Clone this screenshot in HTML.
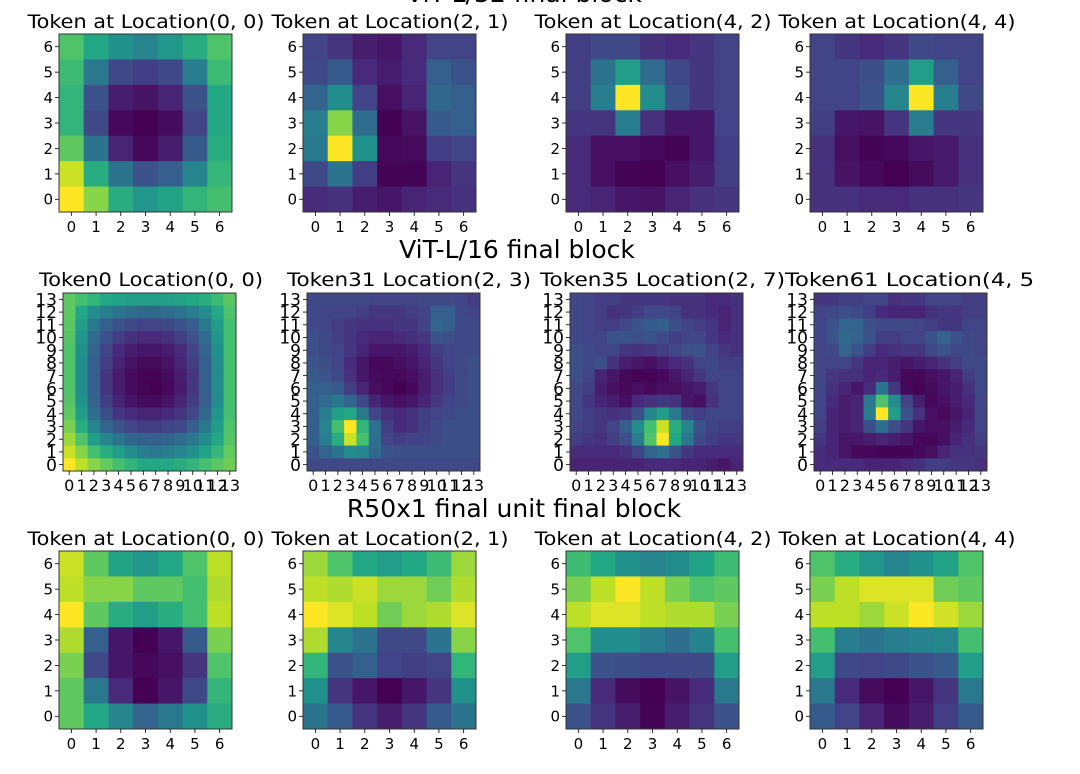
<!DOCTYPE html>
<html><head><meta charset="utf-8">
<style>
html,body{margin:0;padding:0;background:#fff;}
svg{display:block;}
text{font-family:"DejaVu Sans","Liberation Sans",sans-serif;fill:#000;}
</style></head>
<body>
<svg id="fig" width="1080" height="774" viewBox="0 0 1080 774" xmlns="http://www.w3.org/2000/svg">
<text x="524" y="2" font-size="25" text-anchor="middle">ViT-L/32 final block</text>
<text x="517" y="258" font-size="25" text-anchor="middle">ViT-L/16 final block</text>
<text x="514" y="517" font-size="25" text-anchor="middle">R50x1 final unit final block</text>
</svg>
<script>
// rows listed from top (highest y index) to bottom (y=0)
const ticks7 = ['0','1','2','3','4','5','6'];
const ticks14 = ['0','1','2','3','4','5','6','7','8','9','10','11','12','13'];
const titlesRow1 = ['Token at Location(0, 0)','Token at Location(2, 1)','Token at Location(4, 2)','Token at Location(4, 4)'];
const titlesRow2 = ['Token0 Location(0, 0)','Token31 Location(2, 3)','Token35 Location(2, 7)','Token61 Location(4, 5)'];
const titlesRow3 = ['Token at Location(0, 0)','Token at Location(2, 1)','Token at Location(4, 2)','Token at Location(4, 4)'];

const vit32_00 = [
[.72,.6,.5,.45,.52,.62,.72],[.68,.4,.22,.18,.22,.42,.68],[.65,.25,.08,.05,.1,.25,.6],
[.65,.22,.02,0,.03,.2,.6],[.75,.38,.1,.02,.08,.28,.62],[.92,.62,.38,.25,.3,.45,.66],[1,.82,.62,.52,.58,.65,.7]];
const vit32_21 = [
[.2,.15,.08,.06,.12,.2,.2],[.22,.28,.12,.08,.12,.3,.25],[.32,.48,.2,.04,.1,.33,.3],
[.42,.82,.35,0,.05,.28,.3],[.4,1,.5,.02,.03,.18,.2],[.22,.38,.18,.01,.01,.1,.15],[.12,.14,.08,.06,.1,.12,.14]];
const vit32_42 = [
[.18,.22,.22,.14,.12,.16,.2],[.18,.38,.55,.35,.22,.16,.2],[.18,.42,1,.48,.25,.16,.2],
[.16,.15,.42,.14,.06,.06,.2],[.12,.04,.04,.02,.01,.06,.18],[.12,.04,.01,0,.04,.08,.18],[.12,.1,.06,.05,.1,.14,.16]];
const vit32_44 = [
[.2,.16,.12,.16,.22,.2,.2],[.2,.2,.24,.36,.55,.3,.2],[.2,.2,.25,.45,1,.42,.22],
[.18,.06,.05,.15,.42,.16,.16],[.14,.04,.01,.02,.06,.07,.14],[.14,.05,.02,0,.03,.07,.14],[.14,.14,.12,.12,.14,.14,.16]];

const vit16_t0 = [
[.75,.7,.65,.6,.58,.55,.55,.55,.56,.58,.6,.62,.68,.74],
[.75,.6,.48,.42,.38,.35,.34,.34,.35,.38,.42,.48,.6,.72],
[.74,.55,.4,.3,.25,.22,.2,.2,.22,.25,.3,.4,.55,.7],
[.73,.52,.35,.25,.18,.14,.12,.12,.14,.18,.25,.35,.52,.7],
[.72,.5,.32,.2,.12,.08,.06,.06,.08,.12,.2,.32,.5,.7],
[.72,.48,.3,.18,.1,.05,.03,.03,.05,.1,.18,.3,.48,.7],
[.72,.48,.3,.16,.08,.03,.01,.01,.03,.08,.16,.3,.48,.7],
[.72,.48,.3,.16,.08,.03,.01,0,.02,.07,.16,.3,.48,.7],
[.73,.5,.32,.18,.1,.05,.03,.03,.05,.1,.18,.3,.48,.7],
[.75,.55,.36,.24,.16,.12,.1,.1,.12,.15,.22,.34,.52,.7],
[.8,.62,.45,.32,.25,.2,.18,.18,.2,.22,.3,.4,.55,.72],
[.85,.72,.55,.45,.38,.32,.3,.3,.32,.35,.4,.48,.6,.73],
[.92,.82,.7,.62,.55,.48,.42,.4,.42,.45,.5,.58,.66,.76],
[1,.9,.82,.76,.7,.65,.6,.6,.6,.62,.65,.7,.74,.78]];
const vit16_t31 = [
[.22,.22,.22,.22,.22,.2,.2,.2,.2,.22,.22,.22,.2,.18],
[.22,.2,.2,.2,.18,.16,.16,.16,.18,.2,.3,.3,.22,.2],
[.22,.2,.18,.16,.14,.14,.14,.16,.16,.2,.32,.3,.22,.22],
[.24,.22,.18,.16,.12,.1,.1,.12,.14,.16,.26,.24,.22,.22],
[.24,.22,.2,.16,.1,.06,.06,.06,.08,.12,.18,.2,.22,.22],
[.26,.24,.2,.12,.06,.02,.02,.04,.06,.1,.16,.2,.22,.24],
[.28,.26,.22,.14,.06,.03,.02,.02,.04,.08,.14,.18,.22,.24],
[.3,.3,.28,.18,.1,.04,.02,0,.02,.08,.14,.18,.22,.24],
[.3,.35,.4,.32,.22,.1,.06,.04,.06,.1,.16,.2,.22,.24],
[.3,.42,.55,.6,.4,.2,.14,.12,.14,.18,.2,.22,.24,.24],
[.3,.45,.7,1,.65,.36,.18,.12,.14,.18,.22,.24,.24,.24],
[.3,.42,.62,.92,.7,.36,.2,.18,.2,.2,.22,.24,.24,.24],
[.26,.32,.38,.48,.45,.34,.26,.24,.24,.24,.24,.24,.24,.24],
[.22,.22,.22,.22,.22,.22,.22,.22,.22,.22,.22,.22,.22,.22]];
const vit16_t35 = [
[.22,.2,.18,.18,.16,.16,.16,.16,.14,.14,.14,.12,.12,.14],
[.22,.2,.18,.14,.16,.18,.22,.22,.2,.14,.14,.12,.1,.14],
[.22,.2,.18,.18,.22,.26,.28,.3,.24,.2,.18,.16,.1,.14],
[.22,.2,.2,.26,.26,.24,.26,.22,.18,.2,.2,.16,.12,.14],
[.24,.22,.2,.2,.16,.14,.16,.18,.22,.24,.26,.2,.16,.14],
[.24,.22,.24,.14,.08,.06,.04,.08,.12,.14,.2,.22,.18,.18],
[.24,.2,.1,.06,.02,.01,.01,.02,.06,.1,.16,.2,.2,.2],
[.22,.18,.08,.04,.02,.04,.02,.04,.04,.06,.08,.16,.2,.2],
[.22,.16,.1,.08,.04,.12,.14,.16,.14,.06,.04,.14,.2,.2],
[.22,.18,.16,.14,.16,.24,.45,.55,.4,.22,.18,.2,.2,.2],
[.2,.18,.16,.2,.3,.48,.7,.92,.62,.45,.26,.2,.18,.18],
[.18,.16,.14,.18,.24,.42,.72,1,.6,.4,.22,.18,.16,.16],
[.12,.12,.12,.12,.14,.2,.32,.36,.26,.16,.12,.12,.12,.12],
[.1,.1,.1,.1,.1,.1,.12,.12,.12,.1,.1,.08,.06,.1]];
const vit16_t61 = [
[.16,.16,.18,.18,.2,.2,.14,.16,.16,.2,.2,.2,.18,.18],
[.2,.22,.24,.22,.18,.12,.1,.1,.1,.14,.16,.16,.18,.18],
[.2,.26,.32,.32,.24,.22,.22,.22,.2,.18,.16,.16,.2,.2],
[.2,.26,.34,.32,.26,.18,.18,.2,.2,.26,.32,.26,.22,.2],
[.2,.22,.32,.26,.18,.12,.14,.16,.16,.22,.26,.22,.22,.2],
[.2,.2,.2,.16,.1,.1,.08,.06,.08,.1,.14,.18,.22,.22],
[.2,.16,.14,.14,.1,.12,.08,.02,.02,.04,.06,.1,.18,.22],
[.2,.14,.1,.06,.12,.38,.16,.02,.01,.03,.06,.08,.14,.22],
[.2,.12,.08,.1,.4,.72,.48,.2,.08,.02,.04,.08,.12,.2],
[.2,.1,.08,.1,.42,1,.55,.26,.14,.04,.02,.06,.1,.2],
[.18,.1,.08,.1,.24,.36,.24,.16,.06,.04,.04,.08,.12,.2],
[.16,.1,.06,.06,.08,.1,.08,.06,.02,.02,.04,.1,.14,.18],
[.12,.1,.06,.02,.02,.01,.01,.01,.02,.04,.1,.14,.14,.16],
[.12,.12,.12,.12,.1,.1,.1,.12,.14,.18,.18,.16,.16,.14]];

const r50_00 = [
[.92,.75,.58,.52,.6,.72,.9],[.9,.82,.82,.75,.75,.7,.88],[1,.75,.62,.55,.62,.7,.9],
[.88,.3,.06,0,.06,.28,.8],[.8,.22,.06,.02,.04,.15,.72],[.75,.4,.12,0,.06,.22,.65],[.75,.6,.45,.32,.4,.5,.62]];
const r50_21 = [
[.85,.72,.6,.55,.6,.68,.85],[.9,.88,.92,.85,.85,.78,.88],[1,.95,.9,.78,.85,.88,.95],
[.88,.45,.38,.22,.22,.38,.82],[.65,.25,.3,.2,.18,.2,.65],[.5,.15,.06,0,.06,.15,.5],[.38,.28,.15,.08,.16,.28,.38]];
const r50_42 = [
[.68,.6,.5,.45,.48,.58,.68],[.8,.9,1,.9,.8,.72,.75],[.9,.95,.95,.9,.88,.88,.8],
[.72,.48,.48,.42,.36,.44,.7],[.55,.25,.24,.22,.22,.22,.55],[.4,.12,.03,0,.05,.12,.4],[.25,.15,.08,.01,.08,.15,.25]];
const r50_44 = [
[.72,.62,.52,.45,.5,.58,.72],[.8,.9,.95,.95,.95,.78,.75],[.9,.9,.85,.92,1,.93,.85],
[.7,.42,.38,.42,.44,.46,.7],[.55,.22,.2,.22,.25,.28,.55],[.4,.12,.03,0,.06,.15,.4],[.28,.2,.1,.03,.08,.18,.28]];

const VIR = [[68,1,84],[72,36,117],[65,68,135],[53,95,141],[42,120,142],[33,145,140],[34,168,132],[68,191,112],[122,209,81],[189,223,38],[253,231,37]];
function viridis(v){
  v=Math.max(0,Math.min(1,v))*10; const i=Math.min(9,Math.floor(v)); const f=v-i;
  const a=VIR[i], b=VIR[i+1];
  return 'rgb('+a.map((c,k)=>Math.round(c+(b[k]-c)*f)).join(',')+')';
}
const NS='http://www.w3.org/2000/svg';
const svg=document.getElementById('fig');
function mk(tag, attrs, parent){
  const e=document.createElementNS(NS,tag);
  for(const k in attrs) e.setAttribute(k, attrs[k]);
  (parent||svg).appendChild(e); return e;
}
function panel(data, ticks, x0, y0, w, h, xfs, yfs, key){
  const g=mk('g',{});
  
  
  const n=data.length, cw=w/n, ch=h/n;
  const xs=i=>x0+i*cw, ys=j=>y0+h-(j+1)*ch;
  for(let r=0;r<n;r++){
    for(let c=0;c<n;c++){
      const j=n-1-r;
      const rc=mk('rect',{x:xs(c).toFixed(2),y:ys(j).toFixed(2),width:(cw+0.4).toFixed(2),height:(ch+0.4).toFixed(2),fill:viridis(data[r][c])},g);
      
      
    }
  }
  const fr=mk('rect',{x:x0,y:y0,width:w,height:h,fill:'none',stroke:'#333','stroke-width':1},g);
  
  
  for(let i=0;i<n;i++){
    const cx=xs(i)+cw/2, cy=ys(i)+ch/2;
    mk('line',{x1:cx,y1:y0+h,x2:cx,y2:y0+h+4,stroke:'#000','stroke-width':0.8},g);
    mk('line',{x1:x0-4,y1:cy,x2:x0,y2:cy,stroke:'#000','stroke-width':0.8},g);
    const xt=mk('text',{x:cx,y:y0+h+20,'font-size':xfs,'text-anchor':'middle'},g);
    xt.textContent=ticks[i];
    
    
    const yt=mk('text',{x:x0-6,y:cy+yfs*0.36,'font-size':yfs,'text-anchor':'end'},g);
    yt.textContent=ticks[i];
    
    
  }
  return g;
}
function title(txt, x, y, key, len){
  const t=mk('text',{x:x,y:y,'font-size':19,textLength:len,lengthAdjust:'spacingAndGlyphs'});
  t.textContent=txt;
  
  
}
const W=173,H=178;
const x1=[59,303,566,810], x2=[63,307,570,814];
const row1=[vit32_00,vit32_21,vit32_42,vit32_44];
const row2=[vit16_t0,vit16_t31,vit16_t35,vit16_t61];
const row3=[r50_00,r50_21,r50_42,r50_44];
const t2x=[39,287,540,785], t2len=[224,244,245,258];
for(let i=0;i<4;i++){
  panel(row1[i],ticks7,x1[i],34,W,H,15,15,'vit-l32-'+i);
  title(titlesRow1[i],x1[i]+W/2-118,28,'vit-l32-subplot-title',237);
  panel(row2[i],ticks14,x2[i],293,W,H,16,17,'vit-l16-'+i);
  title(titlesRow2[i],t2x[i],286,'vit-l16-subplot-title',t2len[i]);
  panel(row3[i],ticks7,x1[i],551,W,H,15,15,'r50x1-'+i);
  title(titlesRow3[i],x1[i]+W/2-118,545,'r50x1-subplot-title',237);
}
const cover=mk('rect',{x:1036,y:265,width:44,height:30,fill:'#fff'});


</script>
</body></html>
